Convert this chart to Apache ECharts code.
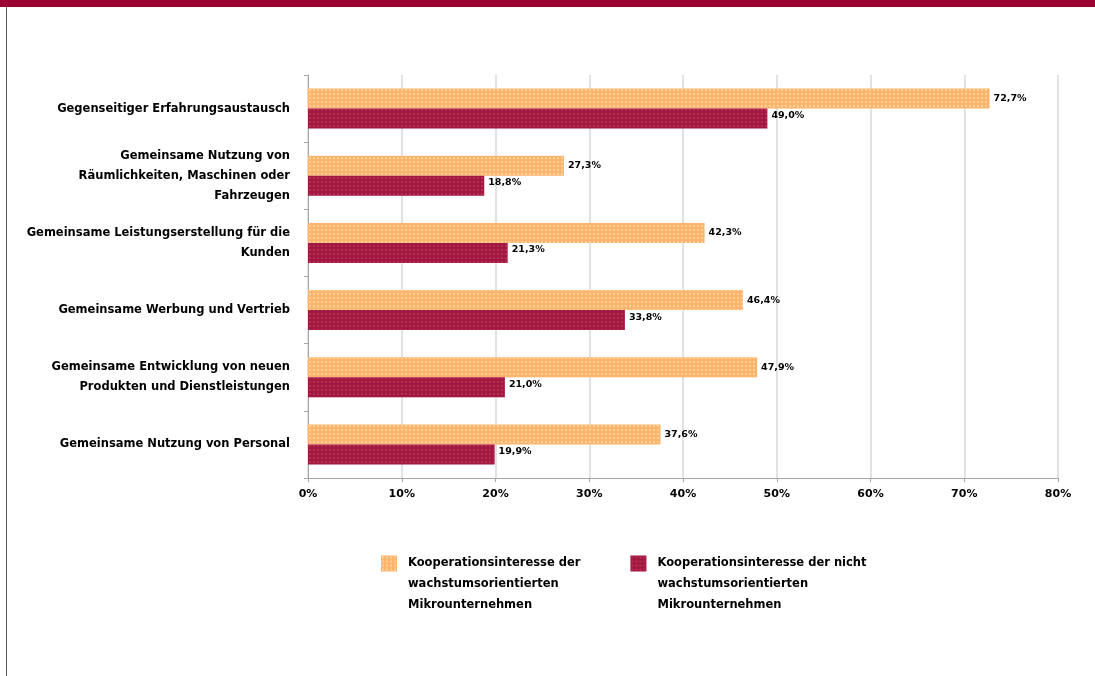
<!DOCTYPE html>
<html>
<head>
<meta charset="utf-8">
<script src="https://cdn.jsdelivr.net/npm/echarts@6/dist/echarts.min.js"></script>
<style>
html,body{margin:0;padding:0;background:#fff;}
#frame{position:absolute;left:0;top:0;width:1095px;height:676px;}
#band{position:absolute;left:0;top:0;width:1095px;height:7px;background:#9B0032;}
#lline{position:absolute;left:6px;top:7px;width:1px;height:669px;background:#555;}
#chart{position:absolute;left:0;top:0;width:1095px;height:676px;}
</style>
</head>
<body>
<div id="frame"><div id="chart"></div><div id="band"></div><div id="lline"></div></div>
<script>
const categories = [
  "Gegenseitiger Erfahrungsaustausch",
  "Gemeinsame Nutzung von\nRäumlichkeiten, Maschinen oder\nFahrzeugen",
  "Gemeinsame Leistungserstellung für die\nKunden",
  "Gemeinsame Werbung und Vertrieb",
  "Gemeinsame Entwicklung von neuen\nProdukten und Dienstleistungen",
  "Gemeinsame Nutzung von Personal"
];
const seriesNames = [
  "Kooperationsinteresse der\nwachstumsorientierten\nMikrounternehmen",
  "Kooperationsinteresse der nicht\nwachstumsorientierten\nMikrounternehmen"
];
const growthValues = [72.7, 27.3, 42.3, 46.4, 47.9, 37.6];
const nonGrowthValues = [49.0, 18.8, 21.3, 33.8, 21.0, 19.9];
const xTicks = [0, 10, 20, 30, 40, 50, 60, 70, 80];

const FONT = "DejaVu Sans";
const chart = echarts.init(document.getElementById('chart'), null, {renderer: 'canvas'});
const labelFmt = p => p.value.toFixed(1).replace('.', ',') + '%';
chart.setOption({
  backgroundColor: 'transparent',
  animation: false,
  grid: {left: 308, right: 37, top: 75, bottom: 198, containLabel: false},
  xAxis: {
    type: 'value', min: xTicks[0], max: xTicks[xTicks.length - 1], interval: 10,
    axisLine: {show: true, lineStyle: {color: '#A6A6A6'}},
    axisTick: {show: true, length: 4, lineStyle: {color: '#A6A6A6'}},
    splitLine: {show: true, lineStyle: {color: '#D9D9D9', width: 1.5}},
    axisLabel: {formatter: '{value}%', color: '#000', fontFamily: FONT, fontWeight: 'bold', fontSize: 11, margin: 11}
  },
  yAxis: {
    type: 'category', data: categories, inverse: true,
    axisLine: {show: true, lineStyle: {color: '#A6A6A6'}},
    axisTick: {show: true, length: 4, lineStyle: {color: '#A6A6A6'}},
    axisLabel: {color: '#000', fontFamily: FONT, fontWeight: 'bold', fontSize: 11.5, lineHeight: 20, align: 'right', margin: 18}
  },
  legend: {
    left: 376, top: 506, orient: 'horizontal', itemGap: 50,
    itemWidth: 16, itemHeight: 16, icon: 'rect',
    data: seriesNames,
    formatter: name => '\n\n' + name.split('\n').map(s => '{t|' + s + '}').join('\n'),
    textStyle: {color: '#000', fontFamily: FONT, fontWeight: 'bold', fontSize: 11.5, lineHeight: 21,
      rich: {t: {fontFamily: FONT, fontWeight: 'bold', fontSize: 11.5, lineHeight: 21, padding: [0, 0, 0, 6]}}}
  },
  series: [
    {
      name: seriesNames[0], type: 'bar', data: growthValues,
      barWidth: 20, barGap: '0%',
      itemStyle: {color: '#FCB36B', decal: {symbol: 'circle', symbolSize: 0.6, color: 'rgba(255,220,170,0.7)', dashArrayX: [[4, 0]], dashArrayY: [4, 0]}},
      label: {show: true, position: 'right', distance: 4, formatter: labelFmt, color: '#000', fontFamily: FONT, fontWeight: 'bold', fontSize: 9.5}
    },
    {
      name: seriesNames[1], type: 'bar', data: nonGrowthValues,
      barWidth: 20, barGap: '0%',
      itemStyle: {color: '#A0173F', decal: {symbol: 'circle', symbolSize: 0.6, color: 'rgba(200,60,100,0.6)', dashArrayX: [[4, 0]], dashArrayY: [4, 0]}},
      label: {show: true, position: 'right', distance: 4, offset: [0, -3], formatter: labelFmt, color: '#000', fontFamily: FONT, fontWeight: 'bold', fontSize: 9.5}
    }
  ]
});
</script>
</body>
</html>
